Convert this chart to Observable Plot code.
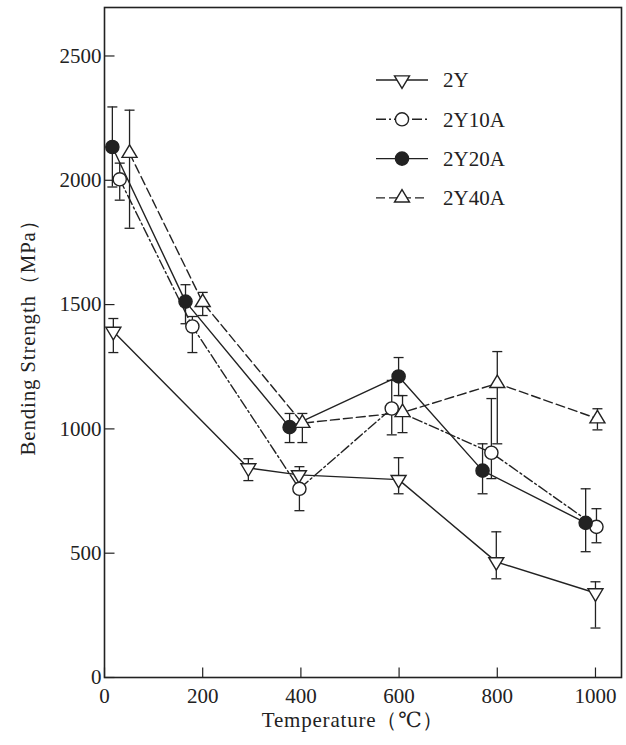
<!DOCTYPE html>
<html>
<head>
<meta charset="utf-8">
<script src="https://cdn.jsdelivr.net/npm/d3@7"></script>
<script src="https://cdn.jsdelivr.net/npm/@observablehq/plot@0.6"></script>
<style>
  html, body { margin: 0; padding: 0; background: #fff; }
  #chart { position: relative; width: 626px; height: 745px; }
</style>
</head>
<body>
<div id="chart"></div>
<script>
// ---- data ----
const seriesNames = ["2Y", "2Y10A", "2Y20A", "2Y40A"];

const temp2Y = [18, 293, 396, 599, 798, 1000];
const val2Y  = [1392, 843, 815, 796, 465, 340];
const hi2Y   = [1444, 880, null, 884, 586, 385];
const lo2Y   = [1307, 792, null, 739, 397, 199];

const temp2Y10A = [31, 179, 397, 585, 788, 1002];
const val2Y10A  = [2004, 1412, 759, 1082, 904, 606];
const hi2Y10A   = [2069, 1452, 848, 1195, 1122, 679];
const lo2Y10A   = [1920, 1307, 671, 976, 800, 542];

const temp2Y20A = [16, 165, 377, 599, 770, 980];
const val2Y20A  = [2134, 1512, 1007, 1211, 832, 622];
const hi2Y20A   = [2295, 1580, 1062, 1287, 940, 759];
const lo2Y20A   = [1973, 1423, 945, 1134, 739, 506];

const temp2Y40A = [51, 200, 403, 607, 800, 1004];
const val2Y40A  = [2109, 1509, 1023, 1066, 1183, 1041];
const hi2Y40A   = [2282, 1549, 1062, 1134, 1311, 1081];
const lo2Y40A   = [1807, 1456, 945, 985, 940, 996];

const xTicks = [0, 200, 400, 600, 800, 1000];
const yTicks = [0, 500, 1000, 1500, 2000, 2500];

// ---- build table ----
const raw = {
  "2Y": [temp2Y, val2Y, hi2Y, lo2Y],
  "2Y10A": [temp2Y10A, val2Y10A, hi2Y10A, lo2Y10A],
  "2Y20A": [temp2Y20A, val2Y20A, hi2Y20A, lo2Y20A],
  "2Y40A": [temp2Y40A, val2Y40A, hi2Y40A, lo2Y40A]
};
const rows = [];
for (const s of seriesNames) {
  const [t, v, h, l] = raw[s];
  t.forEach((T, i) => rows.push({series: s, T, v: v[i], hi: h[i], lo: l[i]}));
}
const errRows = rows.filter(d => d.hi != null);

// ---- symbols ----
const triDown = {draw(ctx) { const w = 7.5, h = 12.5; ctx.moveTo(-w, -h/3); ctx.lineTo(w, -h/3); ctx.lineTo(0, 2*h/3); ctx.closePath(); }};
const triUp   = {draw(ctx) { const w = 7.5, h = 12.5; ctx.moveTo(-w, h/3); ctx.lineTo(w, h/3); ctx.lineTo(0, -2*h/3); ctx.closePath(); }};
const circ    = {draw(ctx) { const r = 6.6; ctx.moveTo(r, 0); ctx.arc(0, 0, r, 0, 2*Math.PI); ctx.closePath(); }};
const cap     = {draw(ctx) { ctx.moveTo(-5, 0); ctx.lineTo(5, 0); }};
const hTick   = {draw(ctx) { ctx.moveTo(0, 0); ctx.lineTo(10, 0); }};
const vTick   = {draw(ctx) { ctx.moveTo(0, 0); ctx.lineTo(0, -10); }};

const style = {
  "2Y":    {dash: null,        symbol: triDown, fill: "white"},
  "2Y10A": {dash: "10,3,2,3",  symbol: circ,    fill: "white"},
  "2Y20A": {dash: null,        symbol: circ,    fill: "#222"},
  "2Y40A": {dash: "9,4",       symbol: triUp,   fill: "white"}
};

const ink = "#222";
const fmt = d => String(d);
const marks = [
  Plot.frame({stroke: ink, strokeWidth: 1.6}),
  Plot.dot(yTicks, {y: d => d, frameAnchor: "left", symbol: hTick, stroke: ink, strokeWidth: 1.2}),
  Plot.dot(xTicks, {x: d => d, frameAnchor: "bottom", symbol: vTick, stroke: ink, strokeWidth: 1.2}),
  Plot.axisY(yTicks, {tickSize: 0, tickPadding: 3, label: null, fontSize: 21, tickFormat: fmt}),
  Plot.axisX(xTicks, {tickSize: 0, tickPadding: 11, label: null, fontSize: 21, tickFormat: fmt}),
  Plot.text(["Bending Strength（MPa）"], {frameAnchor: "left", dx: -76, dy: -10, rotate: -90, textAnchor: "middle", lineAnchor: "middle", fontSize: 21}),
  Plot.text(["Temperature（℃）"], {frameAnchor: "bottom", dx: -10, dy: 43, textAnchor: "middle", lineAnchor: "middle", fontSize: 21})
];
for (const s of seriesNames) {
  marks.push(Plot.line(rows.filter(d => d.series === s), {x: "T", y: "v", stroke: ink, strokeWidth: 1.4, strokeDasharray: style[s].dash}));
}
marks.push(Plot.ruleX(errRows, {x: "T", y1: "lo", y2: "hi", stroke: ink, strokeWidth: 1.3}));
marks.push(Plot.dot(errRows, {x: "T", y: "hi", symbol: cap, stroke: ink, strokeWidth: 1.3}));
marks.push(Plot.dot(errRows, {x: "T", y: "lo", symbol: cap, stroke: ink, strokeWidth: 1.3}));
for (const s of seriesNames) {
  marks.push(Plot.dot(rows.filter(d => d.series === s), {x: "T", y: "v", symbol: style[s].symbol, fill: style[s].fill, stroke: ink, strokeWidth: 1.4}));
}

const chart = Plot.plot({
  width: 626,
  height: 745,
  marginLeft: 104,
  marginRight: 5,
  marginTop: 7,
  marginBottom: 68,
  x: {domain: [0, 1053]},
  y: {domain: [0, 2695]},
  style: {fontFamily: "'Liberation Serif', 'DejaVu Serif', serif", fontSize: "20px", color: ink, background: "white"},
  marks
});
document.getElementById("chart").appendChild(chart);

// titles letter spacing (to match the wide typesetting of the original)
d3.select(chart).selectAll("text").filter(function() {
  const t = this.textContent; return t.startsWith("Bending") || t.startsWith("Temperature");
}).attr("letter-spacing", "0.8px");

// ---- legend (inside the frame, top right) ----
const svg = d3.select(chart);
const lg = svg.append("g").attr("transform", "translate(376,80)");
seriesNames.forEach((s, i) => {
  const g = lg.append("g").attr("transform", `translate(0,${i * 39.3})`);
  g.append("line").attr("x1", 0).attr("x2", 52).attr("y1", 0).attr("y2", 0)
    .attr("stroke", ink).attr("stroke-width", 1.4)
    .attr("stroke-dasharray", style[s].dash);
  g.append("path").attr("d", d3.symbol(style[s].symbol)()).attr("transform", "translate(26,0)")
    .attr("fill", style[s].fill).attr("stroke", ink).attr("stroke-width", 1.4);
  g.append("text").attr("x", 67).attr("y", 0).attr("dy", "0.35em")
    .attr("text-anchor", "start")
    .attr("font-size", 21).attr("font-family", "'Liberation Serif', serif").attr("fill", ink)
    .text(s);
});
</script>
</body>
</html>
